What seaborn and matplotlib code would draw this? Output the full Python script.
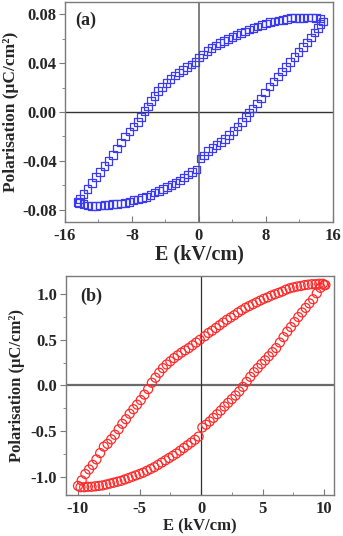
import numpy as np
import pandas as pd
import seaborn as sns
import matplotlib
matplotlib.use("Agg")
import matplotlib.pyplot as plt
from matplotlib.ticker import MultipleLocator, FormatStrFormatter

# ---- panel (a): square markers, E in kV/cm, P in uC/cm^2 ----
a_up_E = [14.8, 14.5, 14.0, 13.5, 13.0, 12.5, 12.0, 11.5, 11.0, 10.5, 10.0, 9.5, 9.0,
          8.5, 8.0, 7.5, 7.0, 6.5, 6.0, 5.5, 5.0, 4.5, 4.0, 3.5, 3.0, 2.5, 2.0, 1.5,
          1.0, 0.5, 0.0, -0.4, -0.9, -1.4, -1.9, -2.4, -2.9, -3.4, -3.9, -4.4, -4.9,
          -5.3, -5.7, -6.1, -6.5, -6.9, -7.3, -7.8, -8.3, -8.8, -9.3, -9.8, -10.3,
          -10.8, -11.3, -11.8, -12.3, -12.8, -13.3, -13.8, -14.2, -14.5]
a_up_P = [0.074, 0.0765, 0.077, 0.0772, 0.0775, 0.077, 0.077, 0.0768, 0.0772, 0.0762,
          0.0755, 0.075, 0.0742, 0.0735, 0.0725, 0.0712, 0.070, 0.069, 0.0675, 0.066,
          0.0645, 0.063, 0.0615, 0.060, 0.058, 0.0565, 0.0545, 0.0525, 0.050, 0.047,
          0.0445, 0.041, 0.039, 0.0368, 0.0345, 0.0322, 0.0298, 0.027, 0.0238, 0.0205,
          0.017, 0.013, 0.009, 0.0045, 0.001, -0.004, -0.008, -0.012, -0.016, -0.020,
          -0.025, -0.030, -0.035, -0.040, -0.044, -0.049, -0.053, -0.058, -0.063,
          -0.067, -0.071, -0.0735]
a_dn_E = [-14.3, -13.8, -13.3, -12.8, -12.3, -11.8, -11.3, -10.8, -10.3, -9.8, -9.3,
          -8.8, -8.3, -7.8, -7.3, -6.8, -6.3, -5.8, -5.3, -4.8, -4.3, -3.8, -3.3, -2.8,
          -2.3, -1.8, -1.3, -0.8, -0.3, 0.2, 0.6, 1.1, 1.6, 2.1, 2.6, 3.1, 3.6, 4.1,
          4.6, 5.1, 5.6, 6.0, 6.4, 6.9, 7.4, 7.9, 8.4, 8.9, 9.4, 9.9, 10.4, 10.9, 11.4,
          11.9, 12.4, 12.9, 13.4, 13.8, 14.2, 14.5]
a_dn_P = [-0.0745, -0.0755, -0.0765, -0.077, -0.077, -0.0765, -0.076, -0.076, -0.0755,
          -0.0755, -0.075, -0.0745, -0.0735, -0.072, -0.0715, -0.0705, -0.0695, -0.068,
          -0.066, -0.0645, -0.063, -0.0615, -0.0595, -0.058, -0.056, -0.0535, -0.051,
          -0.049, -0.047, -0.038, -0.0355, -0.032, -0.0295, -0.027, -0.0245, -0.022,
          -0.019, -0.0155, -0.012, -0.008, -0.004, -0.0005, 0.003, 0.007, 0.011, 0.016,
          0.021, 0.025, 0.029, 0.033, 0.037, 0.041, 0.045, 0.049, 0.053, 0.057, 0.061,
          0.065, 0.069, 0.072]

# ---- panel (b): circle markers ----
b_up_E = [10.1, 9.9, 9.6, 9.3, 9.0, 8.7, 8.4, 8.1, 7.8, 7.5, 7.2, 6.9, 6.6, 6.3, 6.0,
          5.7, 5.4, 5.1, 4.8, 4.5, 4.2, 3.9, 3.6, 3.3, 3.0, 2.7, 2.4, 2.1, 1.8, 1.5,
          1.2, 0.9, 0.6, 0.3, -0.1, -0.4, -0.7, -1.0, -1.3, -1.6, -1.9, -2.2, -2.5,
          -2.8, -3.1, -3.4, -3.7, -4.0, -4.3, -4.6, -4.9, -5.2, -5.5, -5.8, -6.1,
          -6.4, -6.7, -7.0, -7.3, -7.6, -7.9, -8.2, -8.5, -8.8, -9.1, -9.4, -9.7, -10.0]
b_up_P = [1.10, 1.115, 1.115, 1.11, 1.11, 1.105, 1.10, 1.09, 1.085, 1.075, 1.065, 1.05,
          1.03, 1.015, 1.0, 0.985, 0.965, 0.95, 0.93, 0.91, 0.89, 0.87, 0.85, 0.825,
          0.80, 0.77, 0.745, 0.72, 0.69, 0.66, 0.63, 0.60, 0.575, 0.54, 0.50, 0.47,
          0.44, 0.41, 0.385, 0.36, 0.33, 0.30, 0.265, 0.23, 0.19, 0.14, 0.085, 0.03,
          -0.04, -0.10, -0.16, -0.21, -0.26, -0.31, -0.37, -0.42, -0.48, -0.54, -0.59,
          -0.64, -0.67, -0.74, -0.81, -0.87, -0.92, -0.97, -1.04, -1.10]
b_dn_E = [-9.8, -9.5, -9.2, -8.9, -8.6, -8.3, -8.0, -7.7, -7.4, -7.1, -6.8, -6.5, -6.2,
          -5.9, -5.6, -5.3, -5.0, -4.7, -4.4, -4.1, -3.8, -3.5, -3.2, -2.9, -2.6, -2.3,
          -2.0, -1.7, -1.4, -1.1, -0.8, -0.5, -0.2, 0.1, 0.4, 0.7, 1.0, 1.3, 1.6, 1.9,
          2.2, 2.5, 2.8, 3.1, 3.4, 3.7, 4.0, 4.3, 4.6, 4.9, 5.2, 5.5, 5.8, 6.1, 6.4,
          6.7, 7.0, 7.3, 7.6, 7.9, 8.2, 8.5, 8.8, 9.1, 9.4, 9.7, 10.0]
b_dn_P = [-1.115, -1.115, -1.11, -1.11, -1.105, -1.10, -1.095, -1.085, -1.075, -1.065,
          -1.055, -1.045, -1.03, -1.015, -1.0, -0.985, -0.97, -0.955, -0.935, -0.915,
          -0.895, -0.87, -0.845, -0.82, -0.795, -0.77, -0.745, -0.715, -0.685, -0.655,
          -0.625, -0.595, -0.56, -0.46, -0.43, -0.395, -0.355, -0.315, -0.275, -0.23,
          -0.19, -0.15, -0.11, -0.065, -0.015, 0.04, 0.095, 0.145, 0.19, 0.235, 0.275,
          0.32, 0.365, 0.41, 0.47, 0.53, 0.59, 0.64, 0.695, 0.75, 0.80, 0.85, 0.90,
          0.945, 1.01, 1.07, 1.10]

sns.set_style("ticks")
plt.rcParams['font.family'] = ['Liberation Serif', 'DejaVu Serif']
plt.rcParams['font.weight'] = 'bold'
plt.rcParams['axes.unicode_minus'] = False

fig = plt.figure(figsize=(3.43, 5.36), dpi=100)
ax1 = fig.add_axes([0.1895, 0.5858, 0.7813, 0.4104])
ax2 = fig.add_axes([0.1915, 0.0765, 0.7823, 0.4086])

df_a = pd.DataFrame({'E': a_up_E + a_dn_E, 'P': a_up_P + a_dn_P})
df_b = pd.DataFrame({'E': b_up_E + b_dn_E, 'P': b_up_P + b_dn_P})

sns.scatterplot(data=df_a, x='E', y='P', ax=ax1, marker='s', s=30,
                facecolors='none', edgecolor='#3a3af5', linewidth=0.9, zorder=3)
sns.scatterplot(data=df_b, x='E', y='P', ax=ax2, marker='o', s=42,
                facecolors='none', edgecolor='#ff2a2a', linewidth=0.9, zorder=3)

grey = '#7a7a7a'
# zero lines: (a) dark horizontal / grey vertical, (b) grey horizontal / dark vertical
ax1.axhline(0, color='#333333', lw=1.0, zorder=1)
ax1.axvline(0, color='#6a6a6a', lw=1.2, zorder=1)
ax2.axhline(0, color='#6a6a6a', lw=1.6, zorder=1)
ax2.axvline(0, color='#333333', lw=0.9, zorder=1)

for ax in (ax1, ax2):
    for sp in ax.spines.values():
        sp.set_color(grey)
        sp.set_linewidth(1.0)
    ax.tick_params(axis='x', which='both', direction='in', color=grey, labelsize=12,
                   pad=4.5)
    ax.tick_params(axis='y', which='both', direction='out', color=grey, labelsize=12,
                   pad=2)
    ax.tick_params(which='major', length=4)
    ax.tick_params(which='minor', length=2.5)

ax1.set_xlabel('E (kV/cm)', fontsize=14.5, fontweight='bold')
ax1.set_ylabel('Polarisation (μC/cm²)', fontsize=12.5, fontweight='bold')
ax1.xaxis.set_label_coords(0.5, -0.103)
ax1.xaxis.label.set_va('top')
ax1.yaxis.set_label_coords(-0.172, 0.5)

ax2.set_xlabel('E (kV/cm)', fontsize=12, fontweight='bold')
ax2.set_ylabel('Polarisation (μC/cm²)', fontsize=12, fontweight='bold')
ax2.xaxis.set_label_coords(0.5, -0.1)
ax2.xaxis.label.set_va('top')
ax2.yaxis.set_label_coords(-0.152, 0.5)

ax1.set_xlim(-16, 16)
ax1.set_ylim(-0.09, 0.09)
ax1.xaxis.set_major_locator(MultipleLocator(8))
ax1.xaxis.set_minor_locator(MultipleLocator(4))
ax1.yaxis.set_major_locator(MultipleLocator(0.04))
ax1.yaxis.set_minor_locator(MultipleLocator(0.02))
ax1.yaxis.set_major_formatter(FormatStrFormatter('%.2f'))
ax1.text(0.037, 0.955, '(a)', transform=ax1.transAxes, fontsize=13,
         fontweight='bold', va='top')

ax2.set_xlim(-11, 10.8)
ax2.set_ylim(-1.2, 1.2)
ax2.xaxis.set_major_locator(MultipleLocator(5))
ax2.xaxis.set_minor_locator(MultipleLocator(2.5))
ax2.yaxis.set_major_locator(MultipleLocator(0.5))
ax2.yaxis.set_minor_locator(MultipleLocator(0.25))
ax2.yaxis.set_major_formatter(FormatStrFormatter('%.1f'))
ax2.text(0.053, 0.945, '(b)', transform=ax2.transAxes, fontsize=13,
         fontweight='bold', va='top')

for ax in (ax1, ax2):
    for lab in ax.get_xticklabels() + ax.get_yticklabels():
        lab.set_fontweight('bold')

fig.savefig('out.png', dpi=100)
